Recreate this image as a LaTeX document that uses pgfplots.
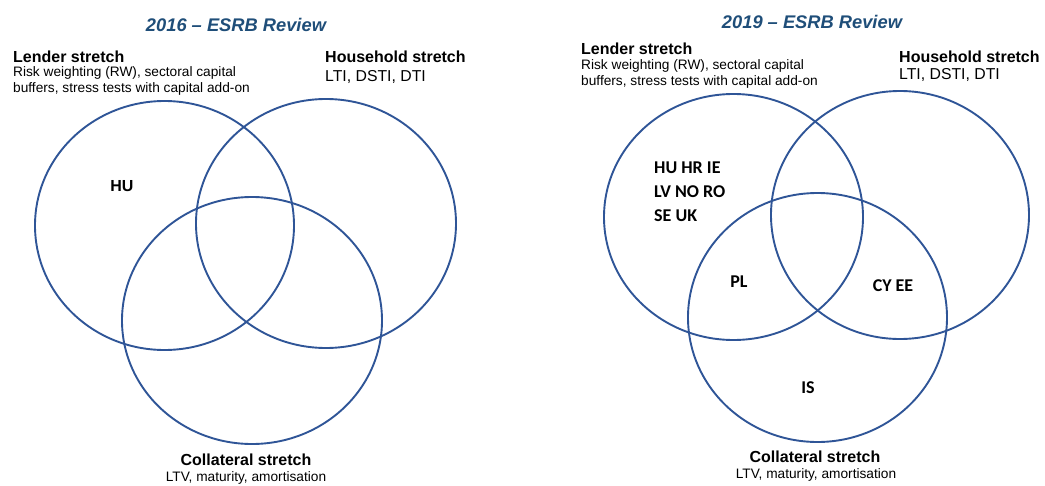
\documentclass[border=0pt]{standalone}
\usepackage{fontspec}
\setmainfont{Liberation Sans}
\newfontfamily\carlitofont{Carlito}
\usepackage{pgfplots}
\pgfplotsset{compat=1.18}
\definecolor{circ}{RGB}{47,85,151}
\definecolor{ttl}{RGB}{31,78,121}
\begin{document}
\begin{tikzpicture}
\begin{axis}[x=1pt,y=1pt,xmin=0,xmax=1045,ymin=0,ymax=485,y dir=reverse,
  hide axis, clip=false]
\path (axis cs:0,0) rectangle (axis cs:1045,485);
% circles: centre x, centre y, x radius, y radius
\draw[circ,line width=1.9pt] (axis cs:164.5,225.5) ellipse [x radius=129.5,y radius=124.5];
\draw[circ,line width=1.9pt] (axis cs:326,223.5) ellipse [x radius=130,y radius=124.5];
\draw[circ,line width=1.9pt] (axis cs:252,320.5) ellipse [x radius=130,y radius=123.5];
\draw[circ,line width=1.9pt] (axis cs:733.5,217) ellipse [x radius=129.5,y radius=123];
\draw[circ,line width=1.9pt] (axis cs:900,215) ellipse [x radius=129,y radius=124];
\draw[circ,line width=1.9pt] (axis cs:817.5,317.5) ellipse [x radius=129.5,y radius=124.5];
% left panel text
\node[text=ttl,font=\fontsize{18.3}{20}\selectfont\bfseries\itshape] at (axis cs:236,25) {2016 – ESRB Review};
\node[anchor=west,inner sep=0pt,font=\fontsize{16}{18}\selectfont\bfseries] at (axis cs:13,57) {Lender stretch};
\node[anchor=west,inner sep=0pt,font=\fontsize{13.7}{16}\selectfont] at (axis cs:13,73) {Risk weighting (RW), sectoral capital};
\node[anchor=west,inner sep=0pt,font=\fontsize{13.7}{16}\selectfont] at (axis cs:13,89) {buffers, stress tests with capital add-on};
\node[anchor=west,inner sep=0pt,font=\fontsize{16}{18}\selectfont\bfseries] at (axis cs:325,57) {Household stretch};
\node[anchor=west,inner sep=0pt,font=\fontsize{15.8}{18}\selectfont] at (axis cs:325,77) {LTI, DSTI, DTI};
\node[inner sep=0pt,font=\fontsize{16}{18}\selectfont\bfseries] at (axis cs:246,460) {Collateral stretch};
\node[inner sep=0pt,font=\fontsize{13.7}{16}\selectfont] at (axis cs:246,478) {LTV, maturity, amortisation};
\node[inner sep=0pt,font=\fontsize{16}{18}\selectfont\bfseries] at (axis cs:122,186) {HU};
% right panel text
\node[text=ttl,font=\fontsize{18.3}{20}\selectfont\bfseries\itshape] at (axis cs:812,22) {2019 – ESRB Review};
\node[anchor=west,inner sep=0pt,font=\fontsize{16}{18}\selectfont\bfseries] at (axis cs:581,49) {Lender stretch};
\node[anchor=west,inner sep=0pt,font=\fontsize{13.7}{16}\selectfont] at (axis cs:581,66) {Risk weighting (RW), sectoral capital};
\node[anchor=west,inner sep=0pt,font=\fontsize{13.7}{16}\selectfont] at (axis cs:581,82) {buffers, stress tests with capital add-on};
\node[anchor=west,inner sep=0pt,font=\fontsize{16}{18}\selectfont\bfseries] at (axis cs:899,57) {Household stretch};
\node[anchor=west,inner sep=0pt,font=\fontsize{15.8}{18}\selectfont] at (axis cs:899,75) {LTI, DSTI, DTI};
\node[inner sep=0pt,font=\fontsize{16}{18}\selectfont\bfseries] at (axis cs:815,457) {Collateral stretch};
\node[inner sep=0pt,font=\fontsize{13.7}{16}\selectfont] at (axis cs:816,475) {LTV, maturity, amortisation};
\node[anchor=west,inner sep=0pt,font=\fontsize{18}{20}\selectfont\carlitofont\bfseries] at (axis cs:654,168) {HU HR IE};
\node[anchor=west,inner sep=0pt,font=\fontsize{18}{20}\selectfont\carlitofont\bfseries] at (axis cs:654,192) {LV NO RO};
\node[anchor=west,inner sep=0pt,font=\fontsize{18}{20}\selectfont\carlitofont\bfseries] at (axis cs:654,216) {SE UK};
\node[inner sep=0pt,font=\fontsize{18}{20}\selectfont\carlitofont\bfseries] at (axis cs:739,282) {PL};
\node[inner sep=0pt,font=\fontsize{18}{20}\selectfont\carlitofont\bfseries] at (axis cs:893,286) {CY EE};
\node[inner sep=0pt,font=\fontsize{18}{20}\selectfont\carlitofont\bfseries] at (axis cs:808,388) {IS};
\end{axis}
\end{tikzpicture}
\end{document}
